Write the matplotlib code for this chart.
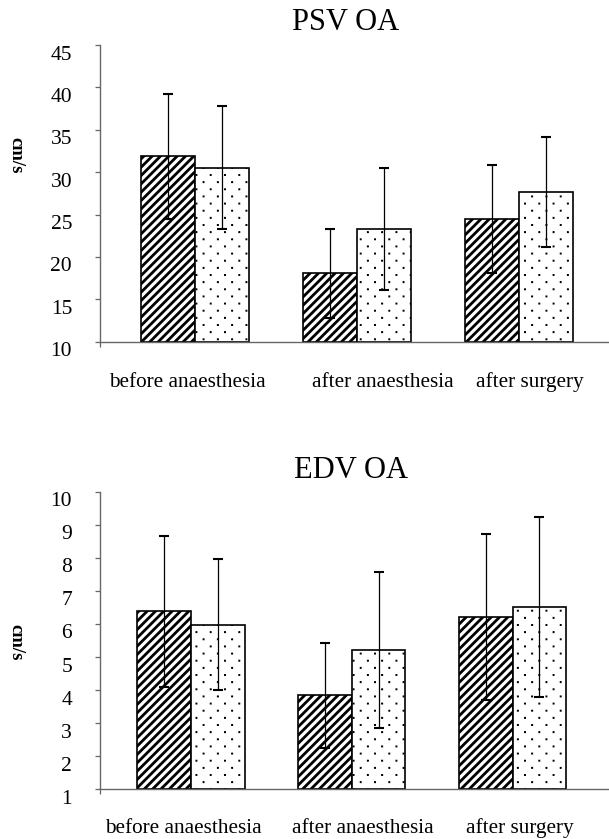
import numpy as np
import matplotlib
matplotlib.use('Agg')
import matplotlib.pyplot as plt
import matplotlib.hatch as mhatch
from matplotlib.path import Path
from matplotlib.transforms import ScaledTranslation, blended_transform_factory

# ---------------- data ----------------
categories = ['before anaesthesia', 'after anaesthesia', 'after surgery']

psv_title = 'PSV OA'
psv_hatched = [31.85, 18.05, 24.5]
psv_hatched_err = [7.4, 5.3, 6.35]
psv_dotted = [30.5, 23.3, 27.7]
psv_dotted_err = [7.25, 7.15, 6.5]
psv_ticks = [10, 15, 20, 25, 30, 35, 40, 45]

edv_title = 'EDV OA'
edv_hatched = [6.38, 3.84, 6.21]
edv_hatched_err = [2.28, 1.58, 2.5]
edv_dotted = [5.98, 5.21, 6.5]
edv_dotted_err = [1.97, 2.37, 2.72]
edv_ticks = [1, 2, 3, 4, 5, 6, 7, 8, 9, 10]

y_label = 'cm/s'


# ------------- custom sparse dot hatch -------------
class _SparseDots(mhatch.HatchPatternBase):
    def __init__(self, hatch, density):
        n = hatch.count('.')
        self.cols = 7 * n
        self.rows = 14 * n
        self.half = 0.0035
        self.num_vertices = self.cols * self.rows * 5

    def set_vertices_and_codes(self, vertices, codes):
        i = 0
        h = self.half
        for r in range(self.rows):
            y = (r + 0.5) / self.rows
            shift = 0.5 if r % 2 else 0.0
            for c in range(self.cols):
                x = (c + 0.25 + shift) / self.cols
                vertices[i:i + 5] = [(x - h, y - h), (x + h, y - h), (x + h, y + h),
                                     (x - h, y + h), (x - h, y - h)]
                codes[i:i + 5] = [Path.MOVETO, Path.LINETO, Path.LINETO,
                                  Path.LINETO, Path.CLOSEPOLY]
                i += 5


mhatch._hatch_types = [(_SparseDots if t is mhatch.SmallFilledCircles else t)
                       for t in mhatch._hatch_types]

plt.rcParams['font.family'] = ['Liberation Serif', 'DejaVu Serif']

W, H = 609, 839
fig = plt.figure(figsize=(W / 100, H / 100), dpi=100)

AXIS_COLOR = '#666666'
STRIPE_LW = 2.0
DOT_LW = 0.9


def make_panel(rect, title, title_xy, ylabel_y, hatched, hatched_err, dotted,
               dotted_err, ticks, xlim, label_dx, label_y):
    ax = fig.add_axes(rect)
    x = np.arange(len(categories))
    w = 0.333
    ymin, ymax = ticks[0], ticks[-1]
    with plt.rc_context({'hatch.linewidth': STRIPE_LW}):
        b1 = ax.bar(x - w / 2, np.array(hatched) - ymin, w, bottom=ymin,
                    facecolor='white', edgecolor='black', linewidth=1.2,
                    hatch='////', zorder=2)
    with plt.rc_context({'hatch.linewidth': DOT_LW}):
        b2 = ax.bar(x + w / 2, np.array(dotted) - ymin, w, bottom=ymin,
                    facecolor='white', edgecolor='black', linewidth=1.2,
                    hatch='.', zorder=2)
    for p in b1:
        if hasattr(p, 'set_hatch_linewidth'):
            p.set_hatch_linewidth(STRIPE_LW)
    for p in b2:
        if hasattr(p, 'set_hatch_linewidth'):
            p.set_hatch_linewidth(DOT_LW)
    ax.errorbar(x - w / 2, hatched, yerr=hatched_err, fmt='none', ecolor='black',
                elinewidth=0.9, capsize=3.6, capthick=1.5, zorder=3)
    ax.errorbar(x + w / 2, dotted, yerr=dotted_err, fmt='none', ecolor='black',
                elinewidth=0.9, capsize=3.6, capthick=1.5, zorder=3)

    ax.set_ylim(ymin, ymax)
    ax.set_xlim(*xlim)
    ax.set_yticks(ticks)
    ax.set_yticklabels([str(t) for t in ticks], fontsize=15.5)
    ax.set_xticks([xlim[0]])
    ax.set_xticklabels([''])
    for s in ['top', 'right']:
        ax.spines[s].set_visible(False)
    for s in ['left', 'bottom']:
        ax.spines[s].set_color(AXIS_COLOR)
        ax.spines[s].set_linewidth(1.0)
    ax.tick_params(axis='y', direction='out', length=3.6, width=0.9,
                   color=AXIS_COLOR, pad=16.5)
    ax.tick_params(axis='x', direction='out', length=3.6, width=0.9,
                   color=AXIS_COLOR)
    off = ScaledTranslation(0, -7.5 / 100, fig.dpi_scale_trans)
    for lab in ax.get_yticklabels():
        lab.set_transform(lab.get_transform() + off)

    tr = blended_transform_factory(ax.transData, ax.transAxes)
    for i, cat in enumerate(categories):
        ax.text(i + label_dx[i], label_y, cat, transform=tr, ha='center',
                va='baseline', fontsize=15.3)

    fig.text(title_xy[0] / W, 1 - title_xy[1] / H, title, ha='center',
             va='center', fontsize=22)
    fig.text(16 / W, 1 - ylabel_y / H, y_label, rotation=270, ha='center',
             va='center', fontsize=13.5, fontweight='bold')
    return ax


# top panel: axes spans x 100..609 px, y 45..341.7 px
make_panel([100 / W, 1 - 341.7 / H, 509 / W, 296.7 / H], psv_title,
           (345.5, 22.7), 155, psv_hatched, psv_hatched_err, psv_dotted,
           psv_dotted_err, psv_ticks, (-0.586, 2.556),
           [-0.049, 0.160, 0.068], -0.154)

# bottom panel: axes spans x 100..609 px, y 491.7..789.3 px
make_panel([100 / W, 1 - 789.3 / H, 509 / W, 297.6 / H], edv_title,
           (351, 470.7), 642, edv_hatched, edv_hatched_err, edv_dotted,
           edv_dotted_err, edv_ticks, (-0.566, 2.60),
           [-0.050, 0.068, 0.047], -0.147)

fig.savefig('out.png', dpi=100)
